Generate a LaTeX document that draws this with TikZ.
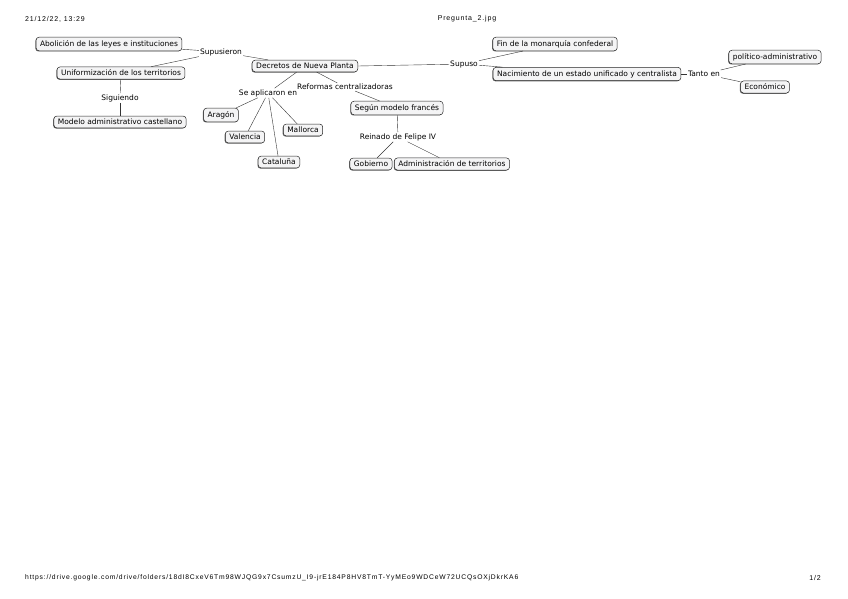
\documentclass[tikz,border=0pt]{standalone}
\usepackage{fontspec}
\setmainfont{DejaVu Sans}
\newfontfamily\hdrfont[LetterSpace=12]{Liberation Sans}
\usetikzlibrary{shadows}
\begin{document}
\begin{tikzpicture}[x=1pt,y=-1pt,
  concept/.style={draw=black!85, line width=0.5pt, rounded corners=3pt, fill=blue!4!gray!8,
    font=\fontsize{7.5}{8}\selectfont, inner xsep=4pt, inner ysep=3pt,
    drop shadow={shadow xshift=-0.7pt, shadow yshift=-0.7pt, fill=black!60, opacity=1}},
  link/.style={font=\fontsize{7.5}{8}\selectfont, inner sep=1pt, fill=white},
  conn/.style={draw=black!80, line width=0.4pt},
  hdr/.style={font=\hdrfont\fontsize{7}{8}\selectfont, inner sep=0pt}]
\useasboundingbox (0,0) rectangle (848,599);
% header / footer
\node[hdr, anchor=west] (date) at (25,19) {21/12/22, 13:29};
\node[hdr] (title) at (467,19) {Pregunta\_2.jpg};
\node[hdr, anchor=west, font=\hdrfont\fontsize{6.75}{8}\selectfont] (url) at (25,578) {https://drive.google.com/drive/folders/18dI8CxeV6Tm98WJQG9x7CsumzU\_I9-jrE184P8HV8TmT-YyMEo9WDCeW72UCQsOXjDkrKA6};
\node[hdr] (page) at (815,578) {1/2};
% concepts
\node[concept] (abol) at (109,44) {Abolición de las leyes e instituciones};
\node[concept] (unif) at (121,73) {Uniformización de los territorios};
\node[concept] (mod) at (120,122) {Modelo administrativo castellano};
\node[concept] (dec) at (305,66) {Decretos de Nueva Planta};
\node[concept] (ara) at (221,115) {Aragón};
\node[concept] (val) at (245,137) {Valencia};
\node[concept] (mal) at (303,130) {Mallorca};
\node[concept] (cat) at (279,162) {Cataluña};
\node[concept] (fra) at (397,108) {Según modelo francés};
\node[concept] (gob) at (371,164) {Gobierno};
\node[concept] (adm) at (452,164) {Administración de territorios};
\node[concept] (fin) at (555,44) {Fin de la monarquía confederal};
\node[concept] (nac) at (587,74) {Nacimiento de un estado unificado y centralista};
\node[concept] (pol) at (775,57) {político-administrativo};
\node[concept] (eco) at (765,87) {Económico};
% link phrases
\node[link] (supu) at (221,52) {Supusieron};
\node[link] (sig) at (120,98) {Siguiendo};
\node[link] (apl) at (268,93) {Se aplicaron en};
\node[link] (ref) at (345,87) {Reformas centralizadoras};
\node[link] (rei) at (398,137) {Reinado de Felipe IV};
\node[link] (supo) at (464,64) {Supuso};
\node[link] (tan) at (704,74) {Tanto en};
% connectors
\draw[conn] (dec) -- (supu);
\draw[conn] (supu) -- (abol);
\draw[conn] (supu) -- (unif);
\draw[conn] (unif) -- (sig);
\draw[conn] (sig) -- (mod);
\draw[conn] (dec) -- (apl);
\draw[conn] (apl) -- (ara);
\draw[conn] (apl) -- (val);
\draw[conn] (apl) -- (cat);
\draw[conn] (apl) -- (mal);
\draw[conn] (dec) -- (ref);
\draw[conn] (ref) -- (fra);
\draw[conn] (fra) -- (rei);
\draw[conn] (rei) -- (gob);
\draw[conn] (rei) -- (adm);
\draw[conn] (dec.east) -- (supo);
\draw[conn] (supo) -- (fin);
\draw[conn] (supo) -- (nac);
\draw[conn] (nac) -- (tan);
\draw[conn] (tan) -- (pol);
\draw[conn] (tan) -- (eco);
\end{tikzpicture}
\end{document}
